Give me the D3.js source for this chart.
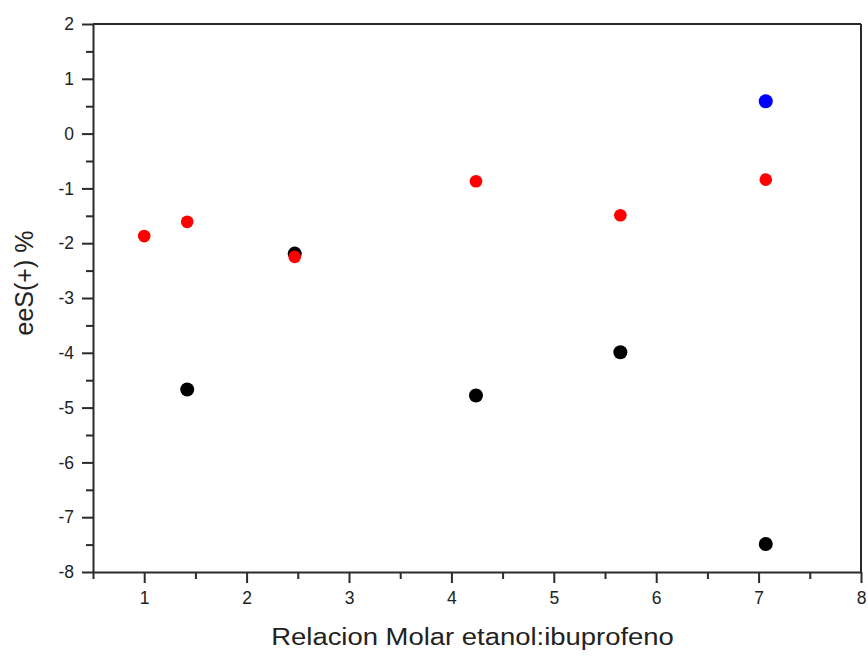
<!DOCTYPE html>
<html><head><meta charset="utf-8">
<script src="https://cdn.jsdelivr.net/npm/d3@7"></script>
<style>body{margin:0;background:#fff}svg{display:block;font-family:"Liberation Sans",Arial,sans-serif}</style>
</head><body><svg id="c" width="868" height="656"></svg>
<script>
const blackX = [1.42, 2.47, 4.24, 5.65, 7.07];
const blackY = [-4.67, -2.19, -4.78, -3.99, -7.49];
const redX = [1.0, 1.42, 2.47, 4.24, 5.65, 7.07];
const redY = [-1.87, -1.61, -2.25, -0.87, -1.49, -0.84];
const blueX = [7.07];
const blueY = [0.59];
const xTicks = [1, 2, 3, 4, 5, 6, 7, 8];
const yTicks = [2, 1, 0, -1, -2, -3, -4, -5, -6, -7, -8];
const xTitle = "Relacion Molar etanol:ibuprofeno";
const yTitle = "eeS(+) %";

const svg = d3.select("#c");
const L = 93, R = 861, T = 24, B = 572;
const x = d3.scaleLinear().domain([0.5, 8]).range([L, R]);
const y = d3.scaleLinear().domain([-8, 2]).range([B, T]);
const axCol = "#2a2a2a";
const fmt = d => String(d);

// frame (top & right)
svg.append("line").attr("x1", L).attr("x2", R).attr("y1", T).attr("y2", T).attr("stroke", axCol).attr("stroke-width", 2);
svg.append("line").attr("x1", R).attr("x2", R).attr("y1", T).attr("y2", B).attr("stroke", axCol).attr("stroke-width", 2);

// minor ticks
const xMinor = d3.range(0.5, 8.01, 0.5).filter(v => !xTicks.includes(v));
const yMinor = d3.range(-7.5, 2, 1);
svg.append("g").attr("transform", `translate(0,${B})`)
  .call(d3.axisBottom(x).tickValues(xMinor).tickSize(7).tickFormat(""))
  .call(g => { g.select(".domain").remove(); g.selectAll("line").attr("stroke", axCol).attr("stroke-width", 2); });
svg.append("g").attr("transform", `translate(${L},0)`)
  .call(d3.axisLeft(y).tickValues(yMinor).tickSize(7).tickFormat(""))
  .call(g => { g.select(".domain").remove(); g.selectAll("line").attr("stroke", axCol).attr("stroke-width", 2); });

// major axes
svg.append("g").attr("transform", `translate(0,${B})`)
  .call(d3.axisBottom(x).tickValues(xTicks).tickSize(11).tickSizeOuter(0).tickPadding(9).tickFormat(fmt))
  .call(g => {
    g.select(".domain").attr("stroke", axCol).attr("stroke-width", 2);
    g.selectAll("line").attr("stroke", axCol).attr("stroke-width", 2);
    g.selectAll("text").attr("font-size", 17.5).attr("fill", "#222").attr("font-family", "Liberation Sans, Arial, sans-serif");
  });
svg.append("g").attr("transform", `translate(${L},0)`)
  .call(d3.axisLeft(y).tickValues(yTicks).tickSize(11).tickSizeOuter(0).tickPadding(8).tickFormat(fmt))
  .call(g => {
    g.select(".domain").attr("stroke", axCol).attr("stroke-width", 2);
    g.selectAll("line").attr("stroke", axCol).attr("stroke-width", 2);
    g.selectAll("text").attr("font-size", 17.5).attr("fill", "#222").attr("font-family", "Liberation Sans, Arial, sans-serif");
  });

// titles
svg.append("text").attr("transform", "translate(472.5,645) scale(1.12,1)").attr("text-anchor", "middle")
  .attr("font-size", 24.5).attr("fill", "#222").text(xTitle);
svg.append("text").attr("transform", `translate(33,283) rotate(-90)`).attr("text-anchor", "middle")
  .attr("font-size", 25).attr("fill", "#222").text(yTitle);

// points
function series(xs, ys, color, r) {
  svg.append("g").selectAll("circle").data(xs.map((v, i) => [v, ys[i]])).join("circle")
    .attr("cx", d => x(d[0])).attr("cy", d => y(d[1])).attr("r", r).attr("fill", color);
}
series(blackX, blackY, "#000000", 7);
series(redX, redY, "#ff0000", 6.3);
series(blueX, blueY, "#0000ff", 7);
</script></body></html>
